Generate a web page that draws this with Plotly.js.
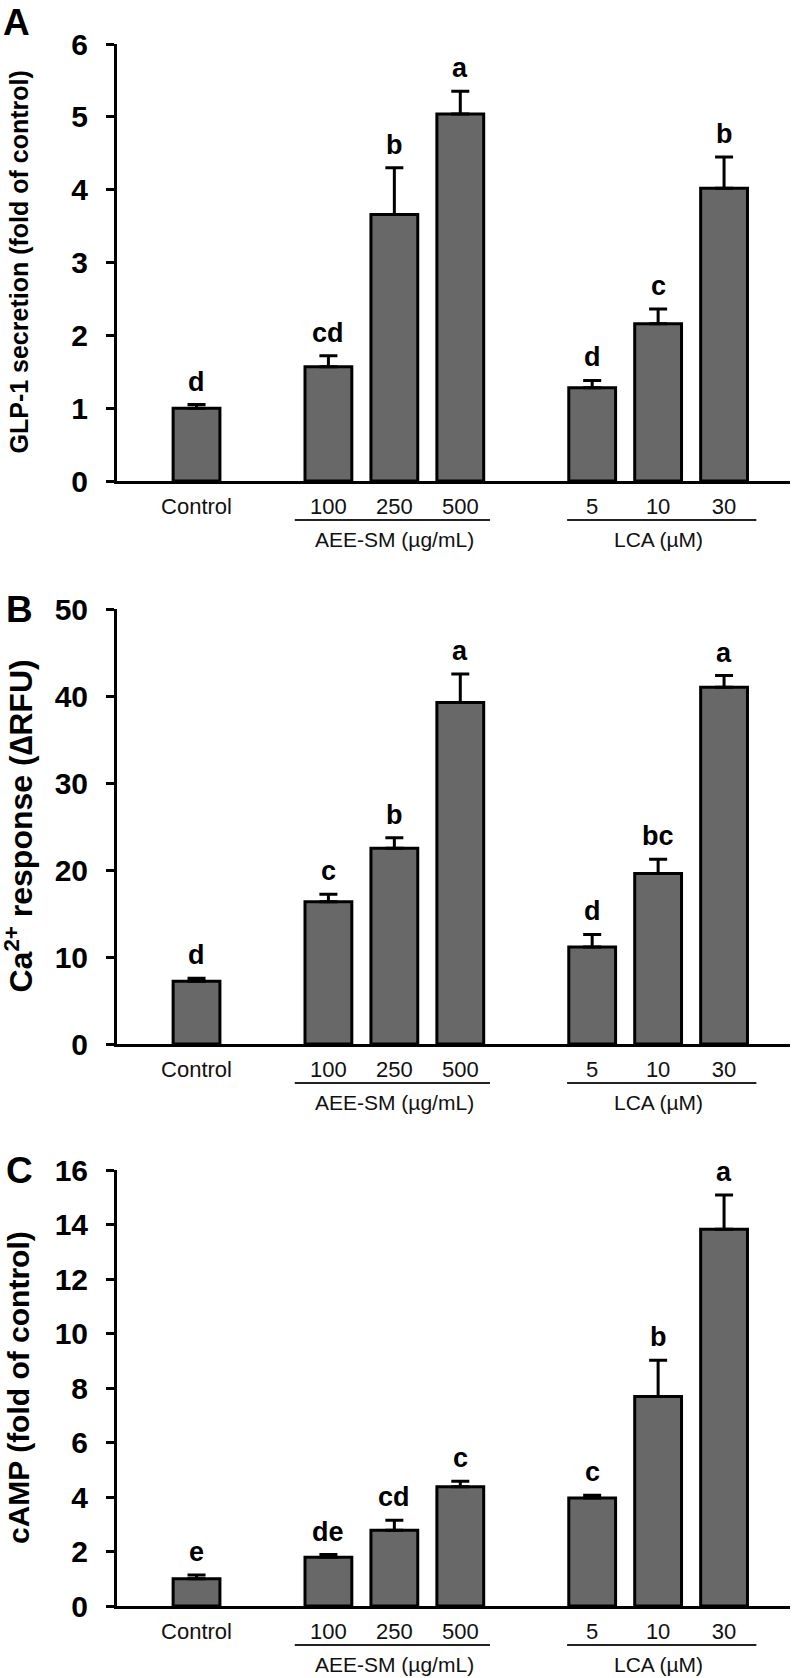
<!DOCTYPE html>
<html>
<head>
<meta charset="utf-8">
<script src="https://cdn.plot.ly/plotly-3.0.1.min.js"></script>
<style>html,body{margin:0;padding:0;background:#fff}#chart{width:792px;height:1678px}</style>
</head>
<body>
<div id="chart"></div>
<script>
// ---- data ----
const categories = ["Control", "100", "250", "500", "5", "10", "30"];
const groupNames = ["AEE-SM (\u00b5g/mL)", "LCA (\u00b5M)"];
const groupAEE = ["100", "250", "500"];
const groupLCA = ["5", "10", "30"];

const glp1 = [1.00, 1.57, 3.66, 5.04, 1.28, 2.16, 4.02];
const glp1Err = [0.05, 0.15, 0.64, 0.31, 0.10, 0.20, 0.43];
const glp1Letters = ["d", "cd", "b", "a", "d", "c", "b"];

const ca = [7.2, 16.35, 22.5, 39.25, 11.16, 19.6, 41.0];
const caErr = [0.35, 0.85, 1.2, 3.27, 1.43, 1.64, 1.35];
const caLetters = ["d", "c", "b", "a", "d", "bc", "a"];

const camp = [1.0, 1.79, 2.78, 4.38, 3.96, 7.69, 13.83];
const campErr = [0.14, 0.10, 0.37, 0.20, 0.10, 1.33, 1.25];
const campLetters = ["e", "de", "cd", "c", "c", "b", "a"];

const panelLetters = ["A", "B", "C"];
const yTitles = ["GLP-1 secretion (fold of control)", "Ca<sup>2+</sup> response (\u2206RFU)", "cAMP (fold of control)"];
const yRanges = [[0, 6], [0, 50], [0, 16]];
const yDticks = [1, 10, 2];

// ---- layout helpers ----
const W = 792, H = 1678;
const FONT = "Liberation Sans, Arial, Helvetica, sans-serif";
const NARROW = "Liberation Sans Narrow, Arial Narrow, Liberation Sans, Arial, sans-serif";
const axisOrder = ["Control", "\u2002", "100", "250", "500", "\u2003", "5", "10", "30"];
const idx = c => axisOrder.indexOf(c);
const panels = [
  {vals: glp1, err: glp1Err, letters: glp1Letters, top: 44, bottom: 481, tsize: 25},
  {vals: ca, err: caErr, letters: caLetters, top: 609, bottom: 1044, tsize: 32},
  {vals: camp, err: campErr, letters: campLetters, top: 1170, bottom: 1606, tsize: 30}
];
const xLeft = 117, xRight = 790;

const data = [];
const layout = {
  width: W, height: H,
  margin: {l: 0, r: 0, t: 0, b: 0},
  paper_bgcolor: "#fff", plot_bgcolor: "#fff",
  showlegend: false,
  font: {family: FONT, color: "#000"},
  annotations: [], shapes: []
};

panels.forEach((p, i) => {
  const n = i === 0 ? "" : String(i + 1);
  const xa = "x" + n, ya = "y" + n;
  data.push({
    type: "bar", x: categories, y: p.vals,
    xaxis: xa, yaxis: ya,
    width: 0.71,
    marker: {color: "#686868", line: {color: "#000", width: 3}},
    error_y: {type: "data", symmetric: false, array: p.err,
              arrayminus: p.err.map(() => 0),
              color: "#000", thickness: 3, width: 9},
    cliponaxis: false, hoverinfo: "skip"
  });
  const yd = [1 - p.bottom / H, 1 - p.top / H];
  layout["xaxis" + n] = {
    domain: [xLeft / W, xRight / W], anchor: ya, type: "category",
    categoryorder: "array", categoryarray: axisOrder,
    tickmode: "array", tickvals: categories, ticktext: categories,
    range: [-1.206, 9.0], fixedrange: true,
    showline: true, linecolor: "#000", linewidth: 3,
    ticks: "", showgrid: false, zeroline: false,
    tickfont: {family: FONT, size: 22, color: "#111"},
    ticklabelstandoff: 4
  };
  layout["yaxis" + n] = {
    domain: yd, anchor: xa, range: yRanges[i], dtick: yDticks[i], tick0: 0,
    showline: true, linecolor: "#000", linewidth: 3,
    ticks: "outside", ticklen: 8, tickwidth: 3, tickcolor: "#000",
    showgrid: false, zeroline: false, fixedrange: true,
    tickfont: {family: NARROW, size: 30, color: "#000", weight: "bold"},
    ticklabelstandoff: 12
  };
  // significance letters
  categories.forEach((c, j) => {
    layout.annotations.push({
      xref: xa, yref: ya, x: idx(c), y: p.vals[j] + p.err[j],
      text: "<b>" + p.letters[j] + "</b>", showarrow: false,
      yanchor: "middle", yshift: 23,
      font: {family: NARROW, size: 27, color: "#000"}
    });
  });
  // y-axis title
  layout.annotations.push({
    xref: "paper", yref: "paper", x: 18 / W, y: (yd[0] + yd[1]) / 2,
    xanchor: "center", yanchor: "middle", textangle: -90,
    text: "<b>" + yTitles[i] + "</b>", showarrow: false,
    font: {family: FONT, size: p.tsize, color: "#000"}
  });
  // panel letter
  layout.annotations.push({
    xref: "paper", yref: "paper", x: (i === 0 ? 16 : 19) / W,
    y: i === 0 ? 1 : 1 - p.top / H,
    xanchor: "center", yanchor: i === 0 ? "top" : "middle",
    text: "<b>" + panelLetters[i] + "</b>", showarrow: false,
    font: {family: FONT, size: 37, color: "#000"}
  });
  // group underline + label
  const dom = ya + " domain";
  const ph = p.bottom - p.top;
  const groups = [[groupAEE, groupNames[0], -0.51, 0.45], [groupLCA, groupNames[1], -0.38, 0.49]];
  groups.forEach(g => {
    const a = idx(g[0][0]), b = idx(g[0][g[0].length - 1]);
    const lineY = -(39 / ph);
    layout.shapes.push({type: "line", xref: xa, yref: dom,
      x0: a + g[2], x1: b + g[3], y0: lineY, y1: lineY,
      line: {color: "#222", width: 2}});
    layout.annotations.push({
      xref: xa, yref: dom, x: (a + b) / 2, y: -(58 / ph),
      text: g[1], showarrow: false, xanchor: "center", yanchor: "middle",
      font: {family: FONT, size: 21, color: "#111"}
    });
  });
});

Plotly.newPlot("chart", data, layout, {staticPlot: true, displayModeBar: false});
</script>
</body>
</html>
